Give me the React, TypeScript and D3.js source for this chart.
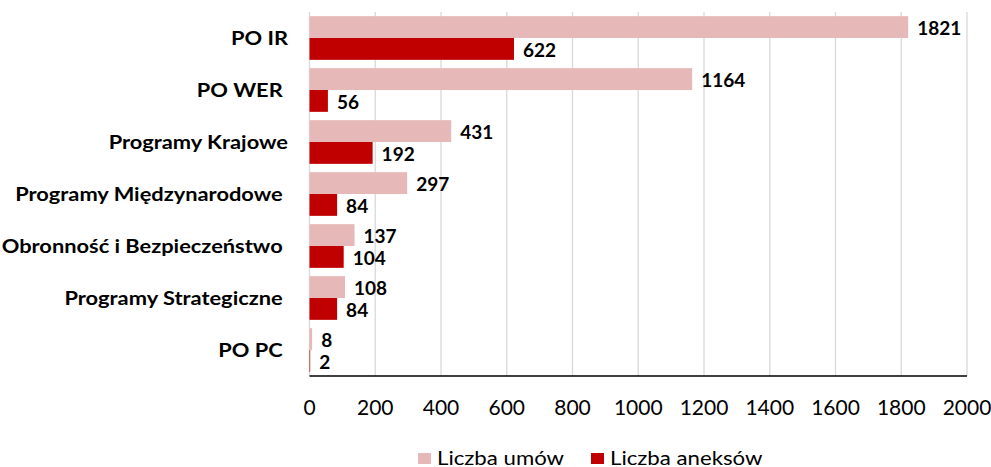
import React from "react";
import * as d3 from "d3";

const categories = ["PO IR", "PO WER ", "Programy Krajowe", "Programy Międzynarodowe ", "Obronność i Bezpieczeństwo ", "Programy Strategiczne ", "PO PC "];
const umowy = [1821, 1164, 431, 297, 137, 108, 8];
const aneksy = [622, 56, 192, 84, 104, 84, 2];
const ticks = [0, 200, 400, 600, 800, 1000, 1200, 1400, 1600, 1800, 2000];
const seriesNames = ["Liczba umów", "Liczba aneksów"];
const colors = ["#E6B8B7", "#C00000"];

const font = "Lato, 'Open Sans', sans-serif";

function T(props: { x: number; y: number; sx?: number; size: number; bold?: boolean; anchor?: string; children: any }) {
  const { x, y, sx = 1, size, bold, anchor = "start", children } = props;
  return (
    <text
      transform={`translate(${x},${y}) scale(${sx},1)`}
      dy="0.35em"
      textAnchor={anchor}
      fontFamily={font}
      fontWeight={bold ? "bold" : "normal"}
      fontSize={size}
      fill="#000"
      style={{ whiteSpace: "pre" }}
    >
      {children}
    </text>
  );
}

export default function App() {
  const W = 991, H = 467;
  const left = 309.5, right = 967, top = 12, bottom = 376;
  const x = d3.scaleLinear().domain([0, 2000]).range([left, right]);
  const y = d3.scaleBand().domain(categories).range([top, bottom]).paddingInner(0.16).paddingOuter(0.08);
  const bw = y.bandwidth() / 2;
  const series = [umowy, aneksy];
  return (
    <svg width={W} height={H} style={{ position: "absolute", left: 0, top: 0, background: "#fff" }}>
      {ticks.map((t) => (
        <line key={"g" + t} x1={x(t)} x2={x(t)} y1={top} y2={bottom} stroke="#d9d9d9" strokeWidth={1.3} />
      ))}
      {categories.map((c, i) => (
        <g key={c}>
          {series.map((s, k) => (
            <g key={k}>
              <rect x={x(0)} y={(y(c) as number) + k * bw} width={x(s[i]) - x(0)} height={bw} fill={colors[k]} />
              <T x={x(s[i]) + 9} y={(y(c) as number) + k * bw + bw / 2 + 1} size={19} bold>
                {s[i]}
              </T>
            </g>
          ))}
          <T x={288} y={(y(c) as number) + y.bandwidth() / 2} size={19.5} sx={1.12} bold anchor="end">
            {c}
          </T>
        </g>
      ))}
      <line x1={left} x2={right} y1={bottom} y2={bottom} stroke="#000" strokeWidth={1.5} />
      {ticks.map((t) => (
        <T key={"t" + t} x={x(t)} y={408} size={21} anchor="middle">
          {t}
        </T>
      ))}
      {seriesNames.map((n, k) => {
        const lx = [418, 591][k];
        return (
          <g key={n}>
            <rect x={lx} y={453} width={13} height={11} fill={colors[k]} />
            <T x={lx + 19} y={458} size={19} sx={1.17}>{n}</T>
          </g>
        );
      })}
    </svg>
  );
}
